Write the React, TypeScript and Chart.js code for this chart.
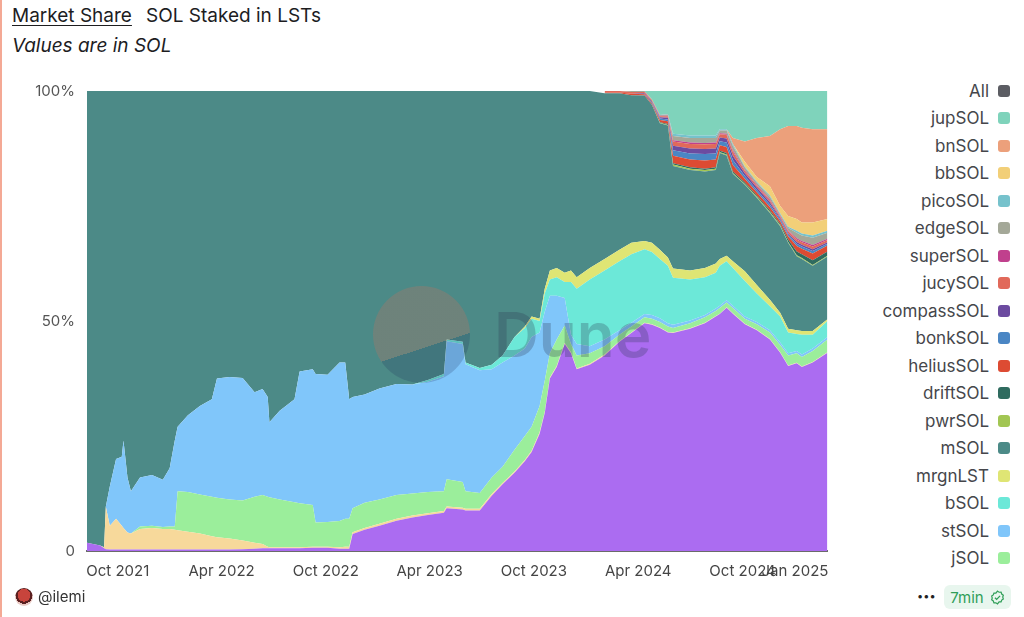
import React, { useEffect, useRef } from "react";
import { Chart, registerables } from "chart.js";

Chart.register(...registerables);

// sample dates
const dates = [
  "2021-08-08", "2021-08-31", "2021-09-07", "2021-09-10", "2021-09-17", "2021-09-28", "2021-10-08", "2021-10-11", "2021-10-18", "2021-10-24",
  "2021-11-09", "2021-11-30", "2021-12-19", "2021-12-31", "2022-01-09", "2022-01-14", "2022-02-01", "2022-02-22", "2022-03-15", "2022-03-24",
  "2022-04-15", "2022-05-08", "2022-05-29", "2022-06-12", "2022-06-21", "2022-06-24", "2022-07-12", "2022-08-07", "2022-08-16", "2022-09-08",
  "2022-09-13", "2022-10-04", "2022-10-25", "2022-11-04", "2022-11-11", "2022-11-17", "2022-12-08", "2023-01-03", "2023-02-02", "2023-03-02",
  "2023-03-29", "2023-04-26", "2023-05-01", "2023-05-29", "2023-06-03", "2023-06-28", "2023-07-19", "2023-08-07", "2023-08-28", "2023-09-15",
  "2023-09-27", "2023-10-11", "2023-10-20", "2023-10-29", "2023-11-10", "2023-11-24", "2023-12-05", "2023-12-15", "2024-01-07", "2024-02-02",
  "2024-02-28", "2024-03-20", "2024-04-12", "2024-04-25", "2024-05-09", "2024-05-23", "2024-06-01", "2024-07-01", "2024-07-27", "2024-08-15",
  "2024-08-22", "2024-09-03", "2024-09-14", "2024-10-05", "2024-10-26", "2024-11-18", "2024-12-06", "2024-12-20", "2025-01-04", "2025-01-13",
  "2025-02-01", "2025-02-27",
];

// share of staked SOL, % (full period)
const jitoSOL = [
  1.8, 1.2, 0.6, 0.4, 0.3, 0.3, 0.3, 0.3, 0.3, 0.3,
  0.3, 0.3, 0.3, 0.3, 0.3, 0.3, 0.3, 0.3, 0.3, 0.3,
  0.3, 0.4, 0.5, 0.6, 0.6, 0.6, 0.6, 0.6, 0.6, 0.7,
  0.7, 0.7, 0.5, 0.5, 0.5, 3.7, 4.6, 5.5, 6.6, 7.3,
  7.8, 8.3, 9.3, 9, 8.8, 8.8, 12, 14.5, 17, 19.5,
  21.5, 25.5, 30, 37.5, 40, 45, 43, 39.5, 40.5, 42.5,
  45.5, 47.4, 49.5, 49.2, 48.5, 47.5, 47.4, 48.3, 49.5, 51,
  51.5, 52.9, 51.6, 49.3, 48, 46, 43.1, 40.2, 40.8, 40,
  41, 43.1,
];
const scnSOL = [
  0, 0, 0.2, 9.2, 5.2, 6.7, 5.2, 4.7, 3.7, 3.5,
  4.5, 4.7, 4.5, 4.5, 4.3, 4.2, 3.9, 3.5, 2.9, 2.7,
  2.4, 1.9, 1.3, 0.9, 0.3, 0.2, 0.2, 0.2, 0.2, 0.2,
  0.2, 0.2, 0.3, 0.4, 0.4, 0.4, 0.4, 0.4, 0.4, 0.4,
  0.4, 0.4, 0.4, 0.4, 0.4, 0.4, 0.4, 0.3, 0.3, 0.3,
  0.3, 0.3, 0.2, 0.2, 0.2, 0.2, 0.2, 0.2, 0.2, 0.2,
  0.1, 0.1, 0.1, 0.1, 0.1, 0.1, 0.1, 0.1, 0.1, 0.1,
  0.1, 0.1, 0.1, 0.1, 0.1, 0.1, 0.1, 0.1, 0.1, 0.1,
  0.1, 0.1,
];
const jSOL = [
  0, 0, 0, 0, 0, 0, 0, 0, 0, 0,
  0.5, 0.5, 0.4, 0.5, 0.7, 8.5, 8.6, 8.5, 8.6, 8.6,
  8.5, 8.7, 10, 10.7, 10.9, 10.9, 10.4, 9.8, 9.6, 9.1,
  5.3, 5.4, 5.7, 6.1, 6.1, 5.2, 5.5, 5.3, 5.2, 4.8,
  4.6, 4.3, 5.9, 5.6, 3.8, 3.4, 3.6, 3.5, 4.7, 5.2,
  5.2, 5.7, 6.8, 5.3, 5.8, 3.8, 1.8, 2.8, 2.3, 1.8,
  1.4, 1.3, 1.2, 1.2, 1.2, 1.2, 1, 1.1, 1.2, 1.1,
  1.2, 1, 1.1, 1.1, 1.2, 1.4, 1.6, 2.2, 2.1, 2.1,
  2.4, 2.8,
];
const stSOL = [
  0, 0, 0, 0, 8.5, 13, 15, 19, 12, 9.2,
  10.7, 11, 10.3, 12.7, 18.7, 14, 16.7, 19.2, 21.2, 25.9,
  26.6, 26.6, 22.7, 23, 21.7, 16.3, 19.3, 22.4, 28.6, 29.5,
  32.3, 32, 34.5, 34, 26, 24.2, 23.5, 24.1, 24.1, 23.7,
  24, 25, 30, 30, 27.6, 26.7, 23.5, 22.7, 20.5, 19,
  19.5, 16, 15, 12.5, 9.5, 6, 2, 2.5, 1.5, 1.5,
  1, 0.8, 0.7, 0.8, 0.8, 0.7, 0.7, 0.6, 0.5, 0.5,
  0.5, 0.5, 0.5, 0.5, 0.5, 0.5, 0.5, 0.5, 0.5, 0.5,
  0.5, 0.5,
];
const bSOL = [
  0, 0, 0, 0, 0, 0, 0, 0, 0, 0,
  0, 0, 0, 0, 0, 0, 0, 0, 0, 0,
  0, 0, 0, 0, 0, 0, 0, 0, 0, 0,
  0, 0, 0, 0, 0, 0, 0, 0, 0, 0,
  0.4, 0.5, 0.4, 0.5, 0.4, 0.5, 1, 1.5, 4, 4.5,
  4, 2.5, 4, 3.5, 4, 3.5, 11.5, 12, 14.5, 15,
  15, 14.9, 14.1, 13.7, 12.9, 12.5, 10.2, 8.9, 8.2, 7.8,
  8.7, 8.5, 8.2, 7.7, 6.2, 5.2, 5.7, 4.5, 3.7, 4.3,
  3, 3.5,
];
const mrgnLST = [
  0, 0, 0, 0, 0, 0, 0, 0, 0, 0,
  0, 0, 0, 0, 0, 0, 0, 0, 0, 0,
  0, 0, 0, 0, 0, 0, 0, 0, 0, 0,
  0, 0, 0, 0, 0, 0, 0, 0, 0, 0,
  0, 0, 0, 0, 0, 0, 0, 0, 0, 0.3,
  0.5, 0.5, 1, 2, 2, 2, 2.5, 2.5, 2.5, 2.5,
  2.5, 2.5, 1.8, 2, 2, 1.8, 2, 2, 2, 2,
  1.5, 1.2, 1.5, 2.1, 1.8, 1.4, 0.8, 0.8, 0.8, 0.8,
  0.8, 0.4,
];
const mSOL = [
  98.2, 98.8, 99.2, 90.4, 86, 80, 79.5, 76, 84, 87,
  84, 83.5, 84.5, 82, 76, 73, 70.5, 68.5, 67, 62.5,
  62.2, 62.4, 65.5, 64.8, 66.5, 72, 69.5, 67, 61, 60.5,
  61.5, 61.7, 59, 59, 67, 66.5, 66, 64.7, 63.7, 63.8,
  62.8, 61.5, 54, 54.5, 59, 60.2, 59.5, 57.5, 53.5, 51.2,
  49, 49.5, 43, 39, 38.5, 39.5, 39, 40.5, 38.5, 36,
  34, 32.1, 31.6, 30, 27.5, 28.7, 22.3, 21.8, 21, 20.3,
  23, 21.8, 19, 18.8, 19, 18.9, 18.8, 18.7, 16.1, 15.7,
  14.2, 13.6,
];

// newer LSTs, values from dates[TAIL_FROM] (Feb 2024) on
const TAIL_FROM = 59;
const pwrSOL = [0, 0, 0, 0, 0, 0.1, 0.1, 0.3, 0.3, 0.3, 0.3, 0.2, 0.2, 0.2, 0.2, 0.2, 0.2, 0.2, 0.2, 0.2, 0.2, 0.2, 0.2];
const driftSOL = [0, 0, 0, 0, 0, 0.1, 0.2, 0.3, 0.3, 0.3, 0.3, 0.3, 0.3, 0.3, 0.3, 0.3, 0.3, 0.3, 0.5, 0.8, 0.8, 1, 0.9];
const heliusSOL = [0.2, 0.2, 0.3, 0.3, 0.3, 0.5, 0.6, 1.6, 1.7, 1.8, 1.7, 1.2, 1.3, 1.4, 0.8, 0.7, 0.8, 0.6, 0.7, 1.2, 1.2, 1.5, 1.3];
const bonkSOL = [0, 0, 0, 0, 0.2, 0.3, 0.4, 1.2, 1.3, 1.4, 1.3, 0.9, 1, 1.1, 0.6, 0.5, 0.5, 0.4, 0.4, 0.5, 0.5, 0.5, 0.4];
const compassSOL = [0, 0, 0, 0.2, 0.2, 0.3, 0.4, 1, 1.1, 1.1, 1.1, 0.8, 0.9, 0.9, 0.6, 0.5, 0.5, 0.3, 0.3, 0.4, 0.4, 0.4, 0.3];
const jucySOL = [0.3, 0.3, 0.4, 0.3, 0.3, 0.2, 0.3, 0.9, 1, 1, 1, 0.7, 0.8, 0.9, 0.5, 0.4, 0.4, 0.3, 0.4, 0.5, 0.5, 0.6, 0.5];
const superSOL = [0, 0, 0, 0, 0, 0.1, 0.1, 0.3, 0.3, 0.3, 0.3, 0.2, 0.2, 0.3, 0.2, 0.2, 0.2, 0.2, 0.2, 0.3, 0.3, 0.3, 0.3];
const edgeSOL = [0, 0, 0.2, 0.2, 0.2, 0.2, 0.3, 0.9, 1, 1.1, 1, 0.6, 0.7, 1, 0.6, 0.5, 0.6, 0.3, 0.5, 1.2, 1.2, 1.6, 1.3];
const picoSOL = [0, 0, 0, 0, 0, 0, 0.1, 0.5, 0.5, 0.5, 0.5, 0.3, 0.3, 0.4, 0.2, 0.2, 0.3, 0.2, 0.3, 0.4, 0.4, 0.5, 0.4];
const bbSOL = [0, 0, 0, 0, 0, 0, 0, 0, 0, 0, 0, 0, 0, 0, 1, 1, 2, 1.6, 2.3, 2.6, 2.4, 2.8, 2.6];
const bnSOL = [0, 0, 0, 0, 0, 0, 0, 0, 0, 0, 0, 0, 0, 1.3, 4.4, 8.5, 10.9, 16.7, 19.6, 20.2, 20.6, 20.3, 19.5];
const jupSOL = [0, 0, 0, 0, 1.8, 5.2, 5, 9.3, 9.7, 9.7, 9.7, 8.3, 8.3, 10.2, 11, 10.2, 9.8, 8.3, 7.6, 7.6, 8, 8.3, 8.3];

const tickDates = ["2021-10-01", "2022-04-01", "2022-10-01", "2023-04-01", "2023-10-01", "2024-04-01", "2024-10-01", "2025-01-01"];
const tickLabels = ["Oct 2021", "Apr 2022", "Oct 2022", "Apr 2023", "Oct 2023", "Apr 2024", "Oct 2024", "Jan 2025"];

// bottom to top
const fullSeries: [string, number[], string][] = [
  ["JitoSOL", jitoSOL, "#ab6cf1"],
  ["scnSOL", scnSOL, "#f7d99b"],
  ["jSOL", jSOL, "#9bee9b"],
  ["stSOL", stSOL, "#80c6fa"],
  ["bSOL", bSOL, "#6ce8d8"],
  ["mrgnLST", mrgnLST, "#dfe574"],
  ["mSOL", mSOL, "#4c8a87"],
];
const tailSeries: [string, number[], string][] = [
  ["pwrSOL", pwrSOL, "#a2c653"],
  ["driftSOL", driftSOL, "#2f6b5f"],
  ["heliusSOL", heliusSOL, "#dd4b33"],
  ["bonkSOL", bonkSOL, "#4a86c4"],
  ["compassSOL", compassSOL, "#6c4ba0"],
  ["jucySOL", jucySOL, "#e1695a"],
  ["superSOL", superSOL, "#c0408d"],
  ["edgeSOL", edgeSOL, "#a4a898"],
  ["picoSOL", picoSOL, "#76c2cc"],
  ["bbSOL", bbSOL, "#f2cf78"],
  ["bnSOL", bnSOL, "#eca07b"],
  ["jupSOL", jupSOL, "#7fd3bb"],
];

const legendItems: [string, string][] = [
  ["All", "#5c5d63"],
  ["jupSOL", "#7fd3bb"],
  ["bnSOL", "#eca07b"],
  ["bbSOL", "#f2cf78"],
  ["picoSOL", "#76c2cc"],
  ["edgeSOL", "#a4a898"],
  ["superSOL", "#c0408d"],
  ["jucySOL", "#e1695a"],
  ["compassSOL", "#6c4ba0"],
  ["bonkSOL", "#4a86c4"],
  ["heliusSOL", "#dd4b33"],
  ["driftSOL", "#2f6b5f"],
  ["pwrSOL", "#a2c653"],
  ["mSOL", "#4c8a87"],
  ["mrgnLST", "#dfe574"],
  ["bSOL", "#6ce8d8"],
  ["stSOL", "#80c6fa"],
  ["jSOL", "#9bee9b"],
];

const FONT = "Inter, 'Noto Sans', sans-serif";

function toDay(s: string) {
  const [y, m, d] = s.split("-").map(Number);
  return Date.UTC(y, m - 1, d) / 86400000;
}

export default function App() {
  const canvasRef = useRef<HTMLCanvasElement | null>(null);

  useEffect(() => {
    if (!canvasRef.current) return;
    const xs = dates.map(toDay);
    const ticks = tickDates.map(toDay);

    // totals per date, for the 100% stacking
    const totals = xs.map((_, i) => {
      let t = 0;
      for (const [, vals] of fullSeries) t += vals[i];
      if (i >= TAIL_FROM) for (const [, vals] of tailSeries) t += vals[i - TAIL_FROM];
      return t;
    });

    const datasets: any[] = [];
    fullSeries.forEach(([label, vals, color]) => {
      datasets.push({
        label,
        data: vals.map((v, i) => ({ x: xs[i], y: (v / totals[i]) * 100 })),
        backgroundColor: color,
      });
    });
    tailSeries.forEach(([label, vals, color]) => {
      datasets.push({
        label,
        data: vals.map((v, j) => ({ x: xs[j + TAIL_FROM], y: (v / totals[j + TAIL_FROM]) * 100 })),
        backgroundColor: color,
      });
    });
    datasets.forEach((d, i) => {
      d.fill = i === 0 ? "origin" : "-1";
      d.borderColor = "transparent";
      d.borderWidth = 0;
      d.pointRadius = 0;
      d.tension = 0;
    });

    const chart = new Chart(canvasRef.current, {
      type: "line",
      data: { datasets },
      options: {
        animation: false,
        responsive: true,
        maintainAspectRatio: false,
        layout: { padding: { top: 0, right: 12, left: 0, bottom: 0 } },
        plugins: { legend: { display: false }, tooltip: { enabled: false } },
        scales: {
          x: {
            type: "linear",
            min: xs[0],
            max: xs[xs.length - 1],
            afterBuildTicks: (scale: any) => {
              scale.ticks = ticks.map((v) => ({ value: v }));
            },
            afterFit: (scale: any) => {
              scale.height = 39;
            },
            ticks: {
              autoSkip: false,
              maxRotation: 0,
              padding: 11,
              color: "#454545",
              font: { family: FONT, size: 15 },
              callback: (v: any) => tickLabels[ticks.indexOf(Number(v))] ?? "",
            },
            grid: { display: false, drawTicks: false },
            border: { display: true, color: "#6b6b6b", width: 2 },
          },
          y: {
            stacked: true,
            min: 0,
            max: 100,
            afterFit: (scale: any) => {
              scale.width = 87;
            },
            ticks: {
              stepSize: 50,
              padding: 12,
              color: "#555",
              font: { family: FONT, size: 15 },
              callback: (v: any) => (v === 0 ? "0" : v + "%"),
            },
            grid: { display: false, drawTicks: false },
            border: { display: false },
          },
        },
      },
    });
    return () => chart.destroy();
  }, []);

  return (
    <div
      style={{
        position: "absolute",
        left: 0,
        top: 0,
        width: 1024,
        height: 617,
        background: "#fff",
        fontFamily: FONT,
        overflow: "hidden",
      }}
    >
      <div style={{ position: "absolute", left: 0, top: 0, width: 2, height: 617, background: "#f4a995" }} />
      <div style={{ position: "absolute", left: 12, top: 4, fontSize: 19, color: "#1d1d1f", whiteSpace: "nowrap" }}>
        <span style={{ textDecoration: "underline", textUnderlineOffset: 3 }}>Market Share</span>
        <span style={{ marginLeft: 14 }}>SOL Staked in LSTs</span>
      </div>
      <div style={{ position: "absolute", left: 12, top: 34, fontSize: 19, fontStyle: "italic", color: "#1d1d1f" }}>
        Values are in SOL
      </div>

      <div style={{ position: "absolute", left: 0, top: 70, width: 840, height: 520 }}>
        <canvas ref={canvasRef} />
      </div>

      {/* watermark */}
      <div
        style={{
          position: "absolute",
          left: 373,
          top: 286,
          width: 97,
          height: 97,
          borderRadius: "50%",
          background: "linear-gradient(162deg, rgba(165,120,105,0.38) 61%, rgba(25,40,85,0.2) 61%)",
          pointerEvents: "none",
        }}
      />
      <div
        style={{
          position: "absolute",
          left: 494,
          top: 304,
          fontSize: 62,
          lineHeight: 1,
          fontWeight: 600,
          color: "rgba(45,55,80,0.27)",
          pointerEvents: "none",
        }}
      >
        Dune
      </div>

      {/* legend */}
      <div style={{ position: "absolute", right: 14, top: 77, display: "flex", flexDirection: "column", alignItems: "flex-end" }}>
        {legendItems.map(([name, color]) => (
          <div key={name} style={{ height: 27.5, display: "flex", alignItems: "center", gap: 9, fontSize: 17, color: "#45464b" }}>
            <span>{name}</span>
            <span style={{ width: 12, height: 12, borderRadius: 3, background: color, display: "inline-block" }} />
          </div>
        ))}
      </div>

      {/* footer */}
      <div
        style={{
          position: "absolute",
          left: 15,
          top: 588,
          width: 18,
          height: 18,
          borderRadius: "50%",
          background: "radial-gradient(circle at 50% 40%, #c8443c 0 45%, #5a2020 46% 60%, #e9c9c4 61%)",
        }}
      />
      <div style={{ position: "absolute", left: 38, top: 587, fontSize: 15, color: "#333" }}>@ilemi</div>
      <div style={{ position: "absolute", left: 917, top: 589, fontSize: 11, color: "#222", letterSpacing: 0 }}>•••</div>
      <div
        style={{
          position: "absolute",
          left: 944,
          top: 585,
          width: 67,
          height: 24,
          borderRadius: 6,
          background: "#e8f6ee",
          display: "flex",
          alignItems: "center",
          justifyContent: "center",
          gap: 6,
          color: "#2f9e57",
          fontSize: 15,
        }}
      >
        <span>7min</span>
        <svg width="15" height="15" viewBox="0 0 16 16">
          <path
            d="M8 1.2l1.7 1.2 2.1-.1.7 2 1.7 1.2-.6 2 .6 2-1.7 1.2-.7 2-2.1-.1L8 14.8l-1.7-1.2-2.1.1-.7-2-1.7-1.2.6-2-.6-2 1.7-1.2.7-2 2.1.1z"
            fill="none"
            stroke="#2f9e57"
            strokeWidth="1.3"
          />
          <path d="M5.3 8.2l1.8 1.8 3.6-3.7" fill="none" stroke="#2f9e57" strokeWidth="1.4" />
        </svg>
      </div>
    </div>
  );
}
